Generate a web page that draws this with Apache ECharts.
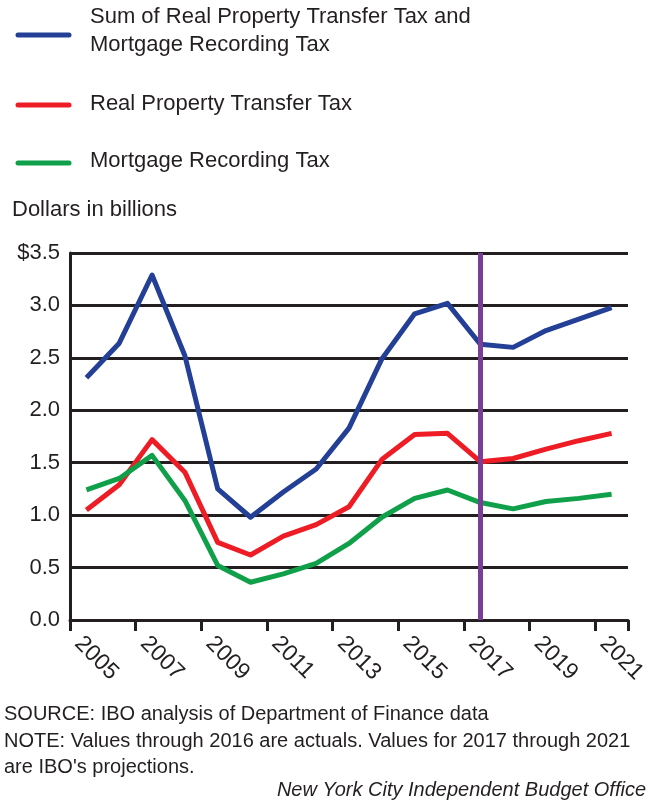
<!DOCTYPE html>
<html>
<head>
<meta charset="utf-8">
<script src="https://cdn.jsdelivr.net/npm/echarts@6/dist/echarts.min.js"></script>
<style>
  html, body { margin: 0; padding: 0; background: #fff; }
  #chart { width: 656px; height: 805px; }
</style>
</head>
<body>
<div id="chart"></div>
<script>
// Fiscal years shown on the horizontal axis
const years = ['2005','2006','2007','2008','2009','2010','2011','2012','2013',
               '2014','2015','2016','2017','2018','2019','2020','2021'];

// Revenue, dollars in billions
const sumTaxes = [2.31, 2.64, 3.29, 2.52, 1.25, 0.98, 1.22, 1.44, 1.83,
                  2.49, 2.92, 3.02, 2.63, 2.60, 2.76, 2.87, 2.98];
const transferTax = [1.05, 1.29, 1.72, 1.41, 0.74, 0.62, 0.80, 0.91, 1.08,
                     1.53, 1.77, 1.78, 1.51, 1.54, 1.63, 1.71, 1.78];
const mortgageTax = [1.24, 1.35, 1.57, 1.14, 0.52, 0.36, 0.44, 0.54, 0.73,
                     0.98, 1.16, 1.24, 1.12, 1.06, 1.13, 1.16, 1.20];

// Year at which projections begin
const projectionStart = '2017';

const seriesNames = [
  'Sum of Real Property Transfer Tax and\nMortgage Recording Tax',
  'Real Property Transfer Tax',
  'Mortgage Recording Tax'
];
const colors = ['#233f96', '#ee1d25', '#10a04a'];

const FONT = '"Liberation Sans", Arial, sans-serif';
const INK = '#231f20';

const chart = echarts.init(document.getElementById('chart'), null, { renderer: 'canvas' });

function legendRow(y, color) {
  return {
    type: 'line',
    shape: { x1: 18, y1: y, x2: 69, y2: y },
    style: { stroke: color, lineWidth: 5, lineCap: 'round' }
  };
}
function textItem(x, y, text, extra) {
  return {
    type: 'text',
    x: x, y: y,
    style: Object.assign({
      text: text, fill: INK, font: '22px ' + FONT,
      textVerticalAlign: 'middle'
    }, extra || {})
  };
}

const option = {
  animation: false,
  backgroundColor: '#fff',
  grid: { left: 70, right: 28, top: 253, bottom: 185, containLabel: false },
  xAxis: {
    type: 'category',
    data: years,
    boundaryGap: true,
    axisLine: { show: true, lineStyle: { color: INK, width: 3 } },
    axisTick: { show: true, length: 11, lineStyle: { color: INK, width: 3 } },
    axisLabel: {
      interval: 1,
      rotate: -45,
      margin: 12,
      align: 'left',
      verticalAlign: 'top',
      color: INK,
      fontSize: 23,
      fontFamily: FONT
    },
    splitLine: { show: false }
  },
  yAxis: {
    type: 'value',
    min: 0,
    max: 3.5,
    interval: 0.5,
    axisLine: { show: true, lineStyle: { color: INK, width: 3 } },
    axisTick: { show: false },
    axisLabel: {
      margin: 10,
      color: INK,
      fontSize: 22,
      fontFamily: FONT,
      formatter: v => (v === 3.5 ? '$3.5' : v.toFixed(1))
    },
    splitLine: { show: true, lineStyle: { color: INK, width: 3 } }
  },
  series: [
    {
      name: seriesNames[0], type: 'line', data: sumTaxes,
      symbol: 'none', lineStyle: { color: colors[0], width: 5, join: 'round' },
      z: 3,
      markLine: {
        silent: true, symbol: 'none', label: { show: false },
        lineStyle: { color: '#7a3e97', width: 5, type: 'solid' },
        data: [{ xAxis: projectionStart }]
      }
    },
    {
      name: seriesNames[1], type: 'line', data: transferTax,
      symbol: 'none', lineStyle: { color: colors[1], width: 5, join: 'round' }, z: 3
    },
    {
      name: seriesNames[2], type: 'line', data: mortgageTax,
      symbol: 'none', lineStyle: { color: colors[2], width: 5, join: 'round' }, z: 3
    }
  ],
  graphic: [
    legendRow(35, colors[0]),
    legendRow(105, colors[1]),
    legendRow(163, colors[2]),
    textItem(90, 17, 'Sum of Real Property Transfer Tax and'),
    textItem(90, 45, 'Mortgage Recording Tax'),
    textItem(90, 104, 'Real Property Transfer Tax'),
    textItem(90, 161, 'Mortgage Recording Tax'),
    textItem(12, 210, 'Dollars in billions'),
    textItem(4, 714, 'SOURCE: IBO analysis of Department of Finance data', { font: '20px ' + FONT }),
    textItem(4, 741, 'NOTE: Values through 2016 are actuals. Values for 2017 through 2021', { font: '20px ' + FONT }),
    textItem(4, 767, "are IBO's projections.", { font: '20px ' + FONT }),
    textItem(646, 790, 'New York City Independent Budget Office', { font: 'italic 20px ' + FONT, textAlign: 'right' })
  ]
};

chart.setOption(option);
</script>
</body>
</html>
